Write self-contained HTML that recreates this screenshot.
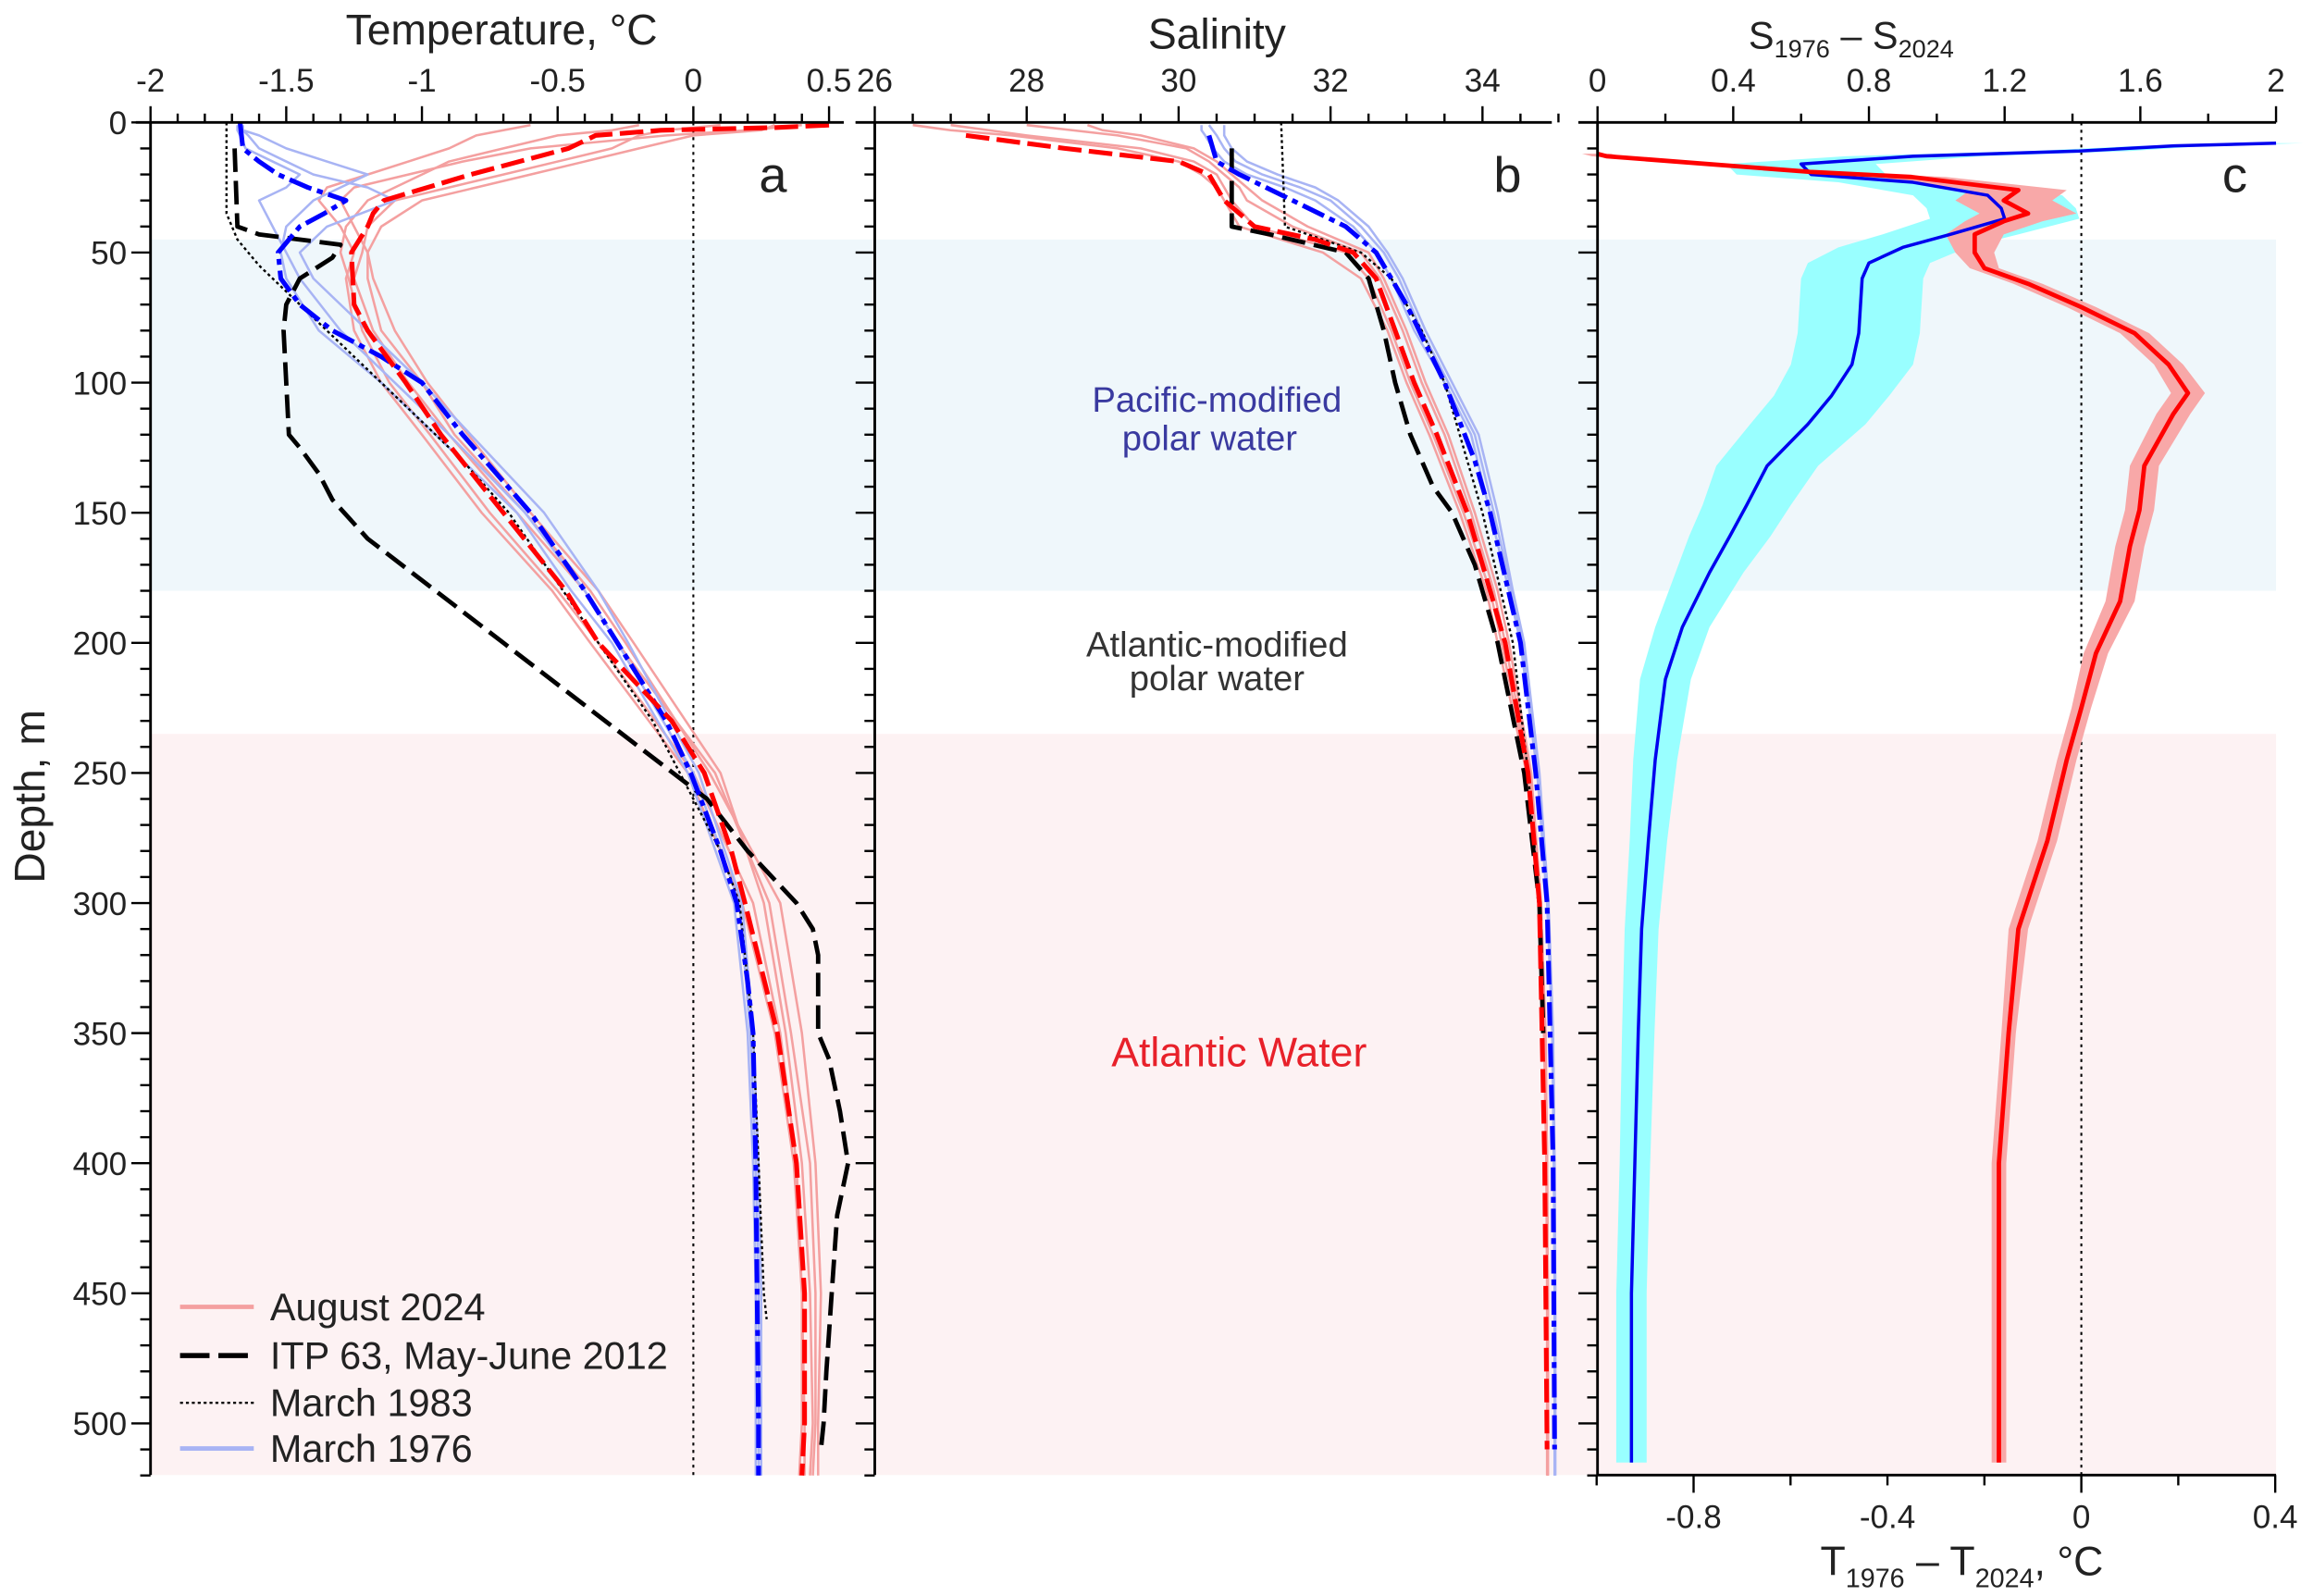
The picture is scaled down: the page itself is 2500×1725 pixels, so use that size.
<!DOCTYPE html>
<html><head><meta charset="utf-8"><style>
html,body{margin:0;padding:0;background:#fff}
svg{display:block}
text{font-family:"Liberation Sans",Arial,sans-serif;fill:#222}
</style></head><body>
<svg id="chart" width="2500" height="1725" viewBox="0 0 1568 1082" xmlns="http://www.w3.org/2000/svg">
<g id="bg"></g>
<g id="marks"></g>
<g id="axes"></g>
<g id="labels">
<text x="340" y="30" font-size="29" text-anchor="middle">Temperature, °C</text>
<text x="825" y="33" font-size="29" text-anchor="middle">Salinity</text>
<text x="1255" y="33" font-size="26" text-anchor="middle">S<tspan font-size="17" dy="6">1976</tspan><tspan dy="-6"> – S</tspan><tspan font-size="17" dy="6">2024</tspan></text>
<text x="1330" y="1068" font-size="28" text-anchor="middle">T<tspan font-size="18" dy="8">1976</tspan><tspan dy="-8"> – T</tspan><tspan font-size="18" dy="8">2024</tspan><tspan dy="-8">, °C</tspan></text>
<text transform="translate(30,540) rotate(-90)" font-size="29" text-anchor="middle">Depth, m</text>
<text x="524" y="130" font-size="34" text-anchor="middle" fill="#111">a</text>
<text x="1022" y="130" font-size="34" text-anchor="middle" fill="#111">b</text>
<text x="1515" y="130" font-size="34" text-anchor="middle" fill="#111">c</text>
<text x="825" y="279" font-size="24" text-anchor="middle" style="fill:#3a3aa0">Pacific-modified</text>
<text x="820" y="305" font-size="24" text-anchor="middle" style="fill:#3a3aa0">polar water</text>
<text x="825" y="445" font-size="24" text-anchor="middle" style="fill:#333">Atlantic-modified</text>
<text x="825" y="468" font-size="24" text-anchor="middle" style="fill:#333">polar water</text>
<text x="840" y="723" font-size="28" text-anchor="middle" style="fill:#e8212a">Atlantic Water</text>
</g>
<g id="legend">
<g><line x1="122" y1="886" x2="172" y2="886" stroke="#f4a0a0" stroke-width="3"/><text x="183" y="895" font-size="26" fill="#111">August 2024</text></g>
<g><line x1="122" y1="919" x2="172" y2="919" stroke="#000" stroke-width="3.5" stroke-dasharray="20,6"/><text x="183" y="928" font-size="26" fill="#111">ITP 63, May-June 2012</text></g>
<g><line x1="122" y1="951" x2="172" y2="951" stroke="#000" stroke-width="1.5" stroke-dasharray="2,2"/><text x="183" y="960" font-size="26" fill="#111">March 1983</text></g>
<g><line x1="122" y1="982" x2="172" y2="982" stroke="#a8b4f4" stroke-width="3"/><text x="183" y="991" font-size="26" fill="#111">March 1976</text></g>
</g>
</svg>
<script>
// ---------- data ----------
const thinDepth = [1,3,5,10,15,20,25,30,40,50,60,80,100,120,150,180,200,250,300,350,400,450,500,520];
const augT1 = [0.1,-0.1,-0.2,-0.3,-0.5,-0.7,-0.9,-1.1,-1.2,-1.22,-1.25,-1.18,-1.05,-0.9,-0.65,-0.4,-0.28,0.08,0.28,0.36,0.43,0.45,0.45,0.44];
const augT2 = [-0.2,-0.3,-0.5,-0.7,-0.9,-1.0,-1.1,-1.2,-1.28,-1.3,-1.27,-1.22,-1.12,-0.97,-0.75,-0.5,-0.35,0.0,0.22,0.32,0.38,0.4,0.41,0.41];
const augT3 = [0.4,0.2,-0.1,-0.6,-0.85,-1.05,-1.25,-1.3,-1.25,-1.2,-1.2,-1.15,-1.0,-0.88,-0.62,-0.38,-0.25,0.06,0.32,0.4,0.45,0.47,0.46,0.46];
const augT4 = [-0.6,-0.7,-0.8,-0.9,-1.05,-1.2,-1.35,-1.38,-1.3,-1.25,-1.28,-1.25,-1.15,-1.0,-0.78,-0.52,-0.38,-0.02,0.18,0.3,0.37,0.4,0.4,0.39];
const augT5 = [0.3,0.25,0.0,-0.2,-0.4,-0.6,-0.8,-1.0,-1.15,-1.2,-1.18,-1.1,-0.98,-0.83,-0.6,-0.35,-0.22,0.1,0.26,0.34,0.4,0.43,0.44,0.43];
const marT1 = [-1.68,-1.68,-1.67,-1.65,-1.55,-1.45,-1.5,-1.6,-1.55,-1.5,-1.45,-1.3,-1.1,-0.9,-0.62,-0.4,-0.28,0.0,0.17,0.21,0.23,0.24,0.24,0.24];
const marT2 = [-1.67,-1.66,-1.6,-1.5,-1.35,-1.2,-1.3,-1.4,-1.5,-1.52,-1.5,-1.38,-1.15,-0.95,-0.65,-0.45,-0.3,-0.02,0.15,0.2,0.22,0.23,0.23,0.23];
const marT3 = [-1.66,-1.66,-1.64,-1.6,-1.5,-1.4,-1.2,-1.1,-1.35,-1.45,-1.4,-1.2,-1.0,-0.82,-0.55,-0.35,-0.24,0.02,0.18,0.22,0.24,0.25,0.25,0.25];
const augS1 = [27.0,27.5,28.0,29.5,30.2,30.5,30.6,30.7,31.0,32.2,32.5,32.8,33.05,33.35,33.75,34.1,34.25,34.6,34.75,34.82,34.85,34.86,34.86,34.86];
const augS2 = [28.0,28.6,29.2,30.1,30.4,30.6,30.8,30.9,31.5,32.4,32.65,32.95,33.2,33.5,33.85,34.15,34.3,34.62,34.76,34.83,34.85,34.86,34.86,34.86];
const augS3 = [26.5,27.0,27.8,29.2,30.0,30.3,30.5,30.6,30.8,31.9,32.4,32.75,33.0,33.3,33.7,34.05,34.2,34.58,34.74,34.81,34.84,34.85,34.85,34.85];
const augS4 = [28.8,29.0,29.5,30.2,30.5,30.7,30.9,31.1,31.7,32.5,32.7,33.0,33.25,33.55,33.9,34.2,34.35,34.64,34.77,34.83,34.85,34.86,34.86,34.86];
const marS1 = [30.3,30.3,30.35,30.45,30.6,30.9,31.4,31.8,32.3,32.6,32.8,33.1,33.5,33.85,34.1,34.35,34.5,34.72,34.85,34.92,34.94,34.95,34.95,34.95];
const marS2 = [30.6,30.6,30.6,30.7,30.9,31.3,31.8,32.1,32.5,32.75,32.95,33.25,33.6,33.95,34.2,34.4,34.55,34.75,34.87,34.93,34.95,34.96,34.96,34.96];
const marS3 = [30.4,30.45,30.5,30.6,30.75,31.1,31.6,32.0,32.4,32.7,32.9,33.2,33.55,33.9,34.15,34.38,34.52,34.74,34.86,34.92,34.94,34.95,34.95,34.95];

const augMeanDepth = [1,2,3,5,10,20,30,35,40,50,70,80,100,120,150,180,200,230,250,280,300,350,400,450,500,520];
const augMeanT = [0.5,0.3,-0.12,-0.36,-0.46,-0.82,-1.14,-1.18,-1.2,-1.26,-1.25,-1.2,-1.06,-0.93,-0.7,-0.47,-0.35,-0.08,0.04,0.14,0.19,0.31,0.38,0.41,0.41,0.4];
const marMeanDepth = [0,10,15,20,25,30,35,40,50,60,70,80,90,100,120,150,180,200,230,250,280,300,330,350,400,500,520];
const marMeanT = [-1.67,-1.66,-1.6,-1.53,-1.42,-1.28,-1.36,-1.45,-1.53,-1.52,-1.45,-1.33,-1.15,-1.0,-0.85,-0.6,-0.4,-0.28,-0.1,-0.01,0.1,0.16,0.2,0.22,0.23,0.24,0.24];
const itpDepth = [10,40,43,47,52,60,70,80,120,125,135,145,160,180,200,220,240,260,280,300,310,320,350,360,380,400,420,450,480,500,510];
const itpT = [-1.69,-1.68,-1.6,-1.3,-1.33,-1.45,-1.5,-1.51,-1.49,-1.45,-1.38,-1.33,-1.2,-0.95,-0.7,-0.45,-0.2,0.05,0.2,0.38,0.44,0.46,0.46,0.5,0.54,0.57,0.53,0.51,0.49,0.48,0.47];
const m83Depth = [0,35,45,55,70,90,110,130,150,180,200,230,260,280,300,350,400,450,460];
const m83T = [-1.72,-1.72,-1.68,-1.6,-1.45,-1.25,-1.05,-0.85,-0.68,-0.48,-0.35,-0.15,0.0,0.1,0.17,0.22,0.24,0.26,0.27];

const augMeanSDepth = [5,10,15,20,30,40,45,50,60,80,100,120,150,180,200,250,300,400,510];
const augMeanS = [27.2,28.5,30.0,30.4,30.6,31.0,31.8,32.3,32.6,32.85,33.1,33.4,33.8,34.1,34.3,34.6,34.75,34.82,34.85];
const marMeanSDepth = [5,15,20,30,40,50,70,100,130,150,200,250,300,400,510];
const marMeanS = [30.4,30.5,30.8,31.5,32.2,32.6,33.0,33.5,33.9,34.1,34.5,34.7,34.85,34.93,34.95];
const itpSDepth = [10,40,43,50,60,80,100,120,140,150,170,200,250,300,350];
const itpS = [30.7,30.7,31.2,32.2,32.5,32.7,32.85,33.05,33.35,33.6,33.9,34.2,34.55,34.75,34.8];
const m83SDepth = [0,40,50,60,80,100,130,150,200,250,300];
const m83S = [31.35,31.4,32.4,32.8,33.2,33.5,33.8,34.0,34.4,34.6,34.75];

const dSDepth = [8,9,11,13,16,20,23,28,33,37,43,48,54,60,81,93,105,116,132,147,159,173,194,214,245,276,310,350,400,450,515];
const dS = [2.0,1.7,1.42,0.93,0.6,0.63,0.93,1.15,1.19,1.2,1.04,0.9,0.8,0.78,0.77,0.75,0.69,0.62,0.5,0.44,0.39,0.33,0.25,0.2,0.17,0.15,0.13,0.12,0.11,0.1,0.1];
const dSErr = [0.08,0.1,0.15,0.2,0.22,0.22,0.22,0.22,0.22,0.22,0.2,0.19,0.18,0.18,0.18,0.18,0.17,0.17,0.15,0.13,0.12,0.1,0.08,0.075,0.065,0.055,0.05,0.048,0.045,0.045,0.045];
const dTDepth = [12,13,17,19,21,26,30,35,38,43,50,56,62,71,81,93,104,112,132,149,163,184,204,225,245,276,310,350,400,450,515];
const dT = [-1.0,-0.98,-0.7,-0.56,-0.35,-0.13,-0.16,-0.11,-0.16,-0.22,-0.22,-0.2,-0.11,0.0,0.11,0.18,0.22,0.19,0.13,0.12,0.1,0.08,0.03,0.0,-0.03,-0.07,-0.13,-0.15,-0.17,-0.17,-0.17];
const dTErr = [0.03,0.03,0.04,0.05,0.07,0.1,0.1,0.1,0.08,0.06,0.04,0.03,0.03,0.03,0.03,0.03,0.035,0.035,0.03,0.03,0.03,0.03,0.025,0.02,0.02,0.02,0.02,0.015,0.015,0.015,0.015];

// ---------- scales ----------
const yD = d => 83 + d * 1.764;
const xT = t => 470 + t * 184;
const xS = s => 593 + (s - 26) * 51.5;
const xDS = s => 1083 + s * 230;
const xDT = t => 1411 + t * 328.6;

const NS = "http://www.w3.org/2000/svg";
function mk(tag, attrs, parent) {
  const el = document.createElementNS(NS, tag);
  for (const k in attrs) el.setAttribute(k, attrs[k]);
  parent.appendChild(el);
  return el;
}
const bg = document.getElementById('bg');
const marks = document.getElementById('marks');
const axes = document.getElementById('axes');

let r1 = mk('rect', {x:102, y:yD(45), width:1441, height:yD(180)-yD(45), fill:'#eff7fb'}, bg);


let r2 = mk('rect', {x:102, y:yD(235), width:1441, height:1000-yD(235), fill:'#fdf2f3'}, bg);



function pts(depths, vals, xf) { return depths.map((d,i)=>xf(vals[i]).toFixed(1)+','+yD(d).toFixed(1)).join(' '); }
function line(depths, vals, xf, style, name) {
  const el = mk('polyline', Object.assign({points:pts(depths, vals, xf), fill:'none', 'stroke-linejoin':'round'}, style), marks);
  
  
  return el;
}
function band(depths, vals, errs, xf, color, name) {
  const left = depths.map((d,i)=>xf(vals[i]-errs[i]).toFixed(1)+','+yD(d).toFixed(1));
  const right = depths.map((d,i)=>xf(vals[i]+errs[i]).toFixed(1)+','+yD(d).toFixed(1)).reverse();
  const el = mk('polygon', {points:left.concat(right).join(' '), fill:color}, marks);
  
  
}

let z1 = mk('line', {x1:xT(0), y1:83, x2:xT(0), y2:1000, stroke:'#000', 'stroke-width':1.3, 'stroke-dasharray':'2,3'}, marks);


let z2 = mk('line', {x1:xDT(0), y1:83, x2:xDT(0), y2:1000, stroke:'#000', 'stroke-width':1.3, 'stroke-dasharray':'2,3'}, marks);



const thinRed = {stroke:'#f4a0a0', 'stroke-width':1.6};
const thinBlue = {stroke:'#a8b4f4', 'stroke-width':1.6};
[augT1,augT2,augT3,augT4,augT5].forEach(v=>line(thinDepth, v, xT, thinRed, 'aug2024-temperature-profile'));
[marT1,marT2,marT3].forEach(v=>line(thinDepth, v, xT, thinBlue, 'mar1976-temperature-profile'));
[augS1,augS2,augS3,augS4].forEach(v=>line(thinDepth, v, xS, thinRed, 'aug2024-salinity-profile'));
[marS1,marS2,marS3].forEach(v=>line(thinDepth, v, xS, thinBlue, 'mar1976-salinity-profile'));

const dotted = {stroke:'#000', 'stroke-width':1.5, 'stroke-dasharray':'2,2'};
const itpStyle = {stroke:'#000', 'stroke-width':3, 'stroke-dasharray':'16,6'};
const redMean = {stroke:'#ff0000', 'stroke-width':3.2, 'stroke-dasharray':'16,5'};
const blueMean = {stroke:'#0000ff', 'stroke-width':3.2, 'stroke-dasharray':'16,4,4,4'};
line(m83Depth, m83T, xT, dotted, 'mar1983-temperature');
line(itpDepth, itpT, xT, itpStyle, 'itp63-temperature');
line(marMeanDepth, marMeanT, xT, blueMean, 'mar1976-mean-temperature');
line(augMeanDepth, augMeanT, xT, redMean, 'aug2024-mean-temperature');
line(m83SDepth, m83S, xS, dotted, 'mar1983-salinity');
line(itpSDepth, itpS, xS, itpStyle, 'itp63-salinity');
line(marMeanSDepth, marMeanS, xS, blueMean, 'mar1976-mean-salinity');
line(augMeanSDepth, augMeanS, xS, redMean, 'aug2024-mean-salinity');

band(dSDepth, dS, dSErr, xDS, '#99ffff', 'salinity-difference-band');
band(dTDepth, dT, dTErr, xDT, '#f8a8a8', 'temperature-difference-band');
line(dSDepth, dS, xDS, {stroke:'#0000ee', 'stroke-width':2.2}, 'salinity-difference-line');
line(dTDepth, dT, xDT, {stroke:'#ff0000', 'stroke-width':3}, 'temperature-difference-line');

// ---------- axes ----------
function ax(x1,y1,x2,y2,w,name){ const e=mk('line',{x1,y1,x2,y2,stroke:'#000','stroke-width':w||1.8},axes);   return e; }
function txt(x,y,s,anchor,size,name){ const e=mk('text',{x,y,'font-size':size||22,'text-anchor':anchor||'middle'},axes); e.textContent=s;   return e; }

const depthTicks = ['0','50','100','150','200','250','300','350','400','450','500'];
[102,593,1083].forEach((X,pi)=>{
  ax(X,83,X,1000,1.8,'depth-axis-line');
  for(let d=0; d<=520; d+=10){
    const major = d%50===0;
    ax(X-(major?13:7), yD(d), X, yD(d), 1.5, 'depth-tick');
  }
  if(pi===0) depthTicks.forEach(s=>txt(86, yD(+s)+8, s, 'end', 22, 'depth-tick-label'));
});
ax(92,83,572,83,1.8,'temperature-axis-line');
const tempTicks = ['-2','-1.5','-1','-0.5','0','0.5'];
for(let i=0;i<=25;i++){ const t=-2+i*0.1; const major=i%5===0; ax(xT(t),83,xT(t),83-(major?11:6),1.5,'temperature-tick'); }
tempTicks.forEach(s=>txt(xT(+s), 62, s, 'middle', 22, 'temperature-tick-label'));
ax(580,83,1052,83,1.8,'salinity-axis-line');
const salTicks = ['26','28','30','32','34'];
for(let i=0;i<=18;i++){ const s=26+i*0.5; const major=i%4===0; ax(xS(s),83,xS(s),83-(major?11:6),1.5,'salinity-tick'); }
salTicks.forEach(s=>txt(xS(+s), 62, s, 'middle', 22, 'salinity-tick-label'));
ax(1070,83,1543,83,1.8,'salinity-difference-axis-line');
const dsTicks = ['0','0.4','0.8','1.2','1.6','2'];
for(let i=0;i<=10;i++){ const s=i*0.2; const major=i%2===0; ax(xDS(s),83,xDS(s),83-(major?11:6),1.5,'salinity-difference-tick'); }
dsTicks.forEach(s=>txt(xDS(+s), 62, s, 'middle', 22, 'salinity-difference-tick-label'));
ax(1083,1000,1543,1000,1.8,'temperature-difference-axis-line');
const dtTicks = ['-0.8','-0.4','0','0.4'];
for(let i=0;i<=7;i++){ const t=-1+i*0.2; const major=Math.abs((t*10)%4)<0.01; ax(xDT(t),1000,xDT(t),1000+(major?12:7),1.5,'temperature-difference-tick'); }
dtTicks.forEach(s=>txt(xDT(+s), 1036, s, 'middle', 22, 'temperature-difference-tick-label'));
</script>
</body></html>
